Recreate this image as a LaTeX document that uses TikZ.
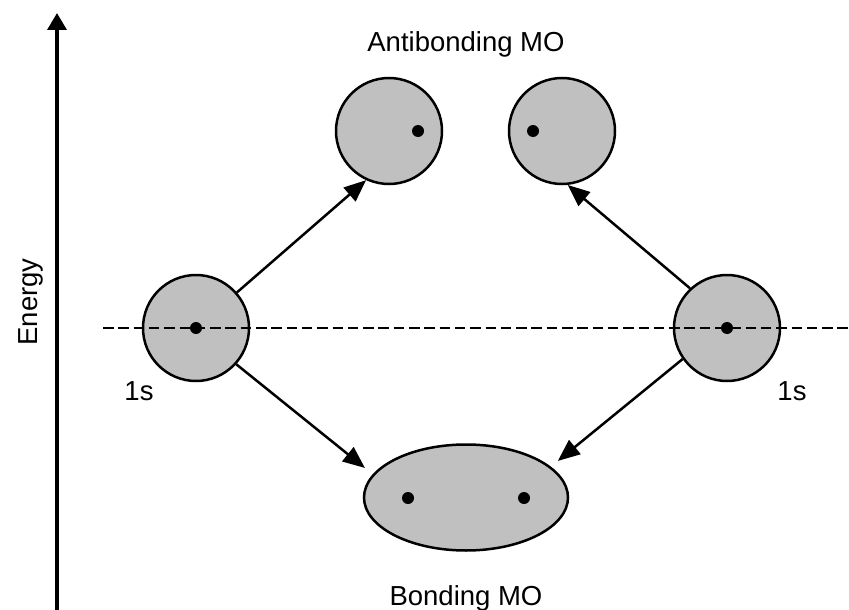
\documentclass[tikz,border=0pt]{standalone}
\usepackage{fontspec}
\setmainfont{Liberation Sans}
\usepackage{tikz}
\usetikzlibrary{arrows.meta,shapes.geometric,positioning}
\definecolor{orbfill}{RGB}{192,192,192}
\tikzstyle{orbital}=[circle, draw, fill=orbfill, minimum size=106pt,
                     line width=2.5pt, inner sep=0pt]
\tikzstyle{molorb} =[ellipse, draw, fill=orbfill, minimum width=204pt,
                     minimum height=106pt, line width=2.5pt, inner sep=0pt]
\tikzstyle{electron}=[circle, fill=black, minimum size=12pt,
                     inner sep=0pt, outer sep=0pt]
\tikzstyle{label}  =[inner sep=0pt, anchor=base,
                     font=\fontsize{27.5}{33}\selectfont]
\tikzstyle{edge}   =[line width=2.5pt, -{Triangle[length=22pt,width=18pt]}]

\begin{document}
\begin{tikzpicture}[x=1pt, y=-1pt]
    \useasboundingbox (0,0) rectangle (849,610);

    % energy axis
    \coordinate (axbot) at (57,610);
    \coordinate (axtop) at (57,13);
    \draw[line width=3.5pt, -{Triangle[length=17pt,width=19pt]}] (axbot) -- (axtop);
    \node[label, rotate=90] (energy) at (37,302) {Energy};

    % orbitals
    \node[orbital] (l1s) at (196,328) {};
    \node[orbital] (r1s) at (727,328) {};
    \node[orbital] (abl) at (389,131) {};
    \node[orbital] (abr) at (562,131) {};
    \node[molorb]  (bmo) at (466,497.5) {};

    % 1s level
    \coordinate (dashl) at (103,328);
    \coordinate (dashr) at (849,328);
    \draw[line width=2.5pt, dash pattern=on 10.5pt off 4.8pt] (dashl) -- (dashr);

    % electrons
    \node[electron] (el1) at (l1s.center) {};
    \node[electron] (er1) at (r1s.center) {};
    \node[electron] (eabl) at (418,131) {};
    \node[electron] (eabr) at (533,131) {};
    \node[electron] (ebl) at (408,498) {};
    \node[electron] (ebr) at (524,498) {};

    % combinations
    \draw[edge] (l1s.41) -- (abl.245);
    \draw[edge] (r1s.133) -- (abr.276);
    \draw[edge, shorten >=10pt] (l1s.-42) -- (bmo.166);
    \draw[edge, shorten >=9pt] (r1s.215) -- (bmo.20.6);

    % labels
    \node[label] (ablab) at (466,52) {Antibonding MO};
    \node[label] (blab)  at (466,605) {Bonding MO};
    \node[label] (l1slab) at (139,400) {1s};
    \node[label] (r1slab) at (792,400) {1s};
\end{tikzpicture}
\end{document}
